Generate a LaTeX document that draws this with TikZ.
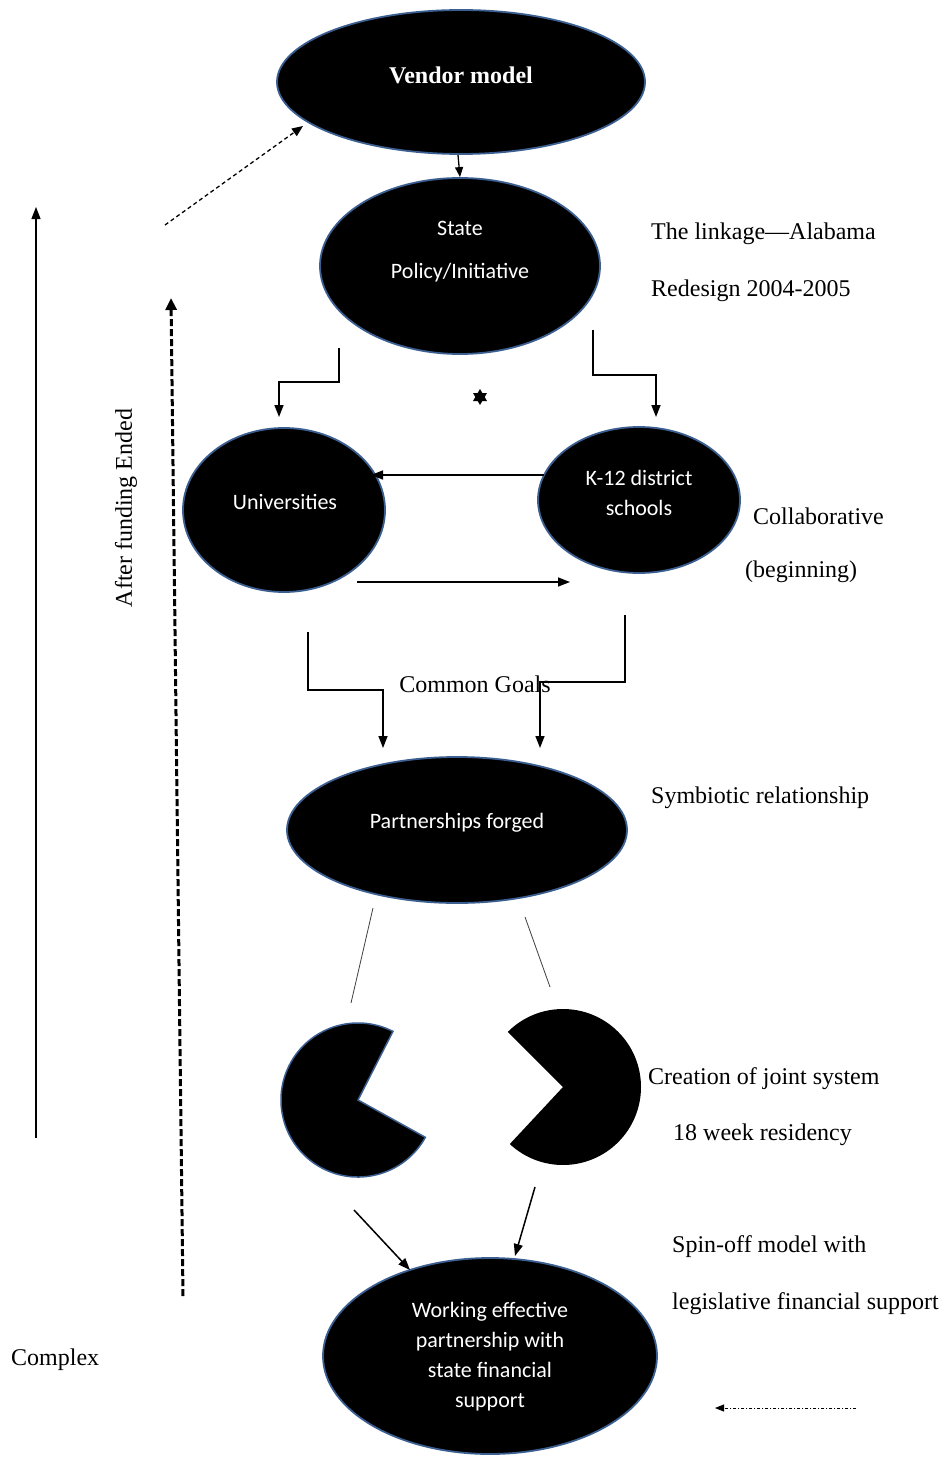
\documentclass[tikz,border=0pt]{standalone}
\usepackage{fontspec}
\setmainfont{Liberation Serif}
\newfontfamily\calfont{Carlito}
\usetikzlibrary{shapes.geometric,arrows.meta}
\definecolor{rimblue}{RGB}{60,95,145}
\begin{document}
\begin{tikzpicture}[x=1pt,y=-1pt,
  blob/.style={ellipse, fill=black, draw=rimblue, line width=1.8pt, inner sep=0pt},
  intext/.style={text=white, font=\calfont\fontsize{22}{30}\selectfont, align=center, inner sep=0pt},
  side/.style={font=\fontsize{24}{28}\selectfont, anchor=west, inner sep=0pt},
  conn/.style={line width=1.5pt, -{Triangle[length=12pt,width=9pt]}},
  thinline/.style={line width=0.8pt, draw=black!75}]
\useasboundingbox (0,0) rectangle (951,1458);
\fill[white] (0,0) rectangle (951,1458);

% ellipses
\node[blob, minimum width=368pt, minimum height=144pt] (vendor) at (461,82) {};
\node[blob, minimum width=280pt, minimum height=176pt] (state) at (460,266) {};
\node[blob, minimum width=202pt, minimum height=164pt] (uni) at (284,510) {};
\node[blob, minimum width=202pt, minimum height=146pt] (k12) at (639,500) {};
\node[blob, minimum width=340pt, minimum height=146pt] (part) at (457,830) {};
\node[blob, minimum width=334pt, minimum height=196pt] (work) at (490,1356) {};

% ellipse texts
\node[text=white, inner sep=0pt, font=\bfseries\fontsize{24}{26}\selectfont] (vendorT) at (461,75) {Vendor model};
\node[intext] (stateT1) at (460,228) {State};
\node[intext] (stateT2) at (460,273) {Policy/Initiative};
\node[intext] (uniT) at (285,502) {Universities};
\node[intext] (k12T1) at (639,478) {K-12 district};
\node[intext] (k12T2) at (639,508) {schools};
\node[intext] (partT) at (457,823) {Partnerships forged};
\node[intext] (workT) at (490,1357) {Working effective\\partnership with\\state financial\\support};

% pac-men
\filldraw[fill=black, draw=rimblue, line width=1.5pt] (358,1100) -- ++(-63:77) arc[start angle=-63, end angle=-331, radius=77] -- cycle;
\fill[black] (563,1087) -- ++(-135:78) arc[start angle=-135, end angle=133, radius=78] -- cycle;
\coordinate (pacL) at (351,1003);
\coordinate (pacR) at (550,987);

% star
\fill (480,389) -- (487,401) -- (473,401) -- cycle;
\fill (480,405) -- (487,393) -- (473,393) -- cycle;

% connectors
\draw[line width=1.3pt, -{Triangle[length=10pt,width=8pt]}] (458,155) -- (state.north);
\draw[line width=1.3pt, dash pattern=on 4pt off 3pt, -{Triangle[length=11pt,width=9pt]}] (165,225) -- (303,126);
\draw[conn] (339,348) -- (339,382) -- (279,382) -- (279,417);
\draw[conn] (593,330) -- (593,375) -- (656,375) -- (656,417);
\draw[conn] (544,475) -- (371,475);
\draw[conn] (357,582) -- (570,582);

\node[font=\fontsize{24}{28}\selectfont, inner sep=0pt] (goals) at (475,684) {Common Goals};
\draw[conn] (308,632) -- (308,690) -- (383,690) -- (383,748);
\draw[conn] (625,615) -- (625,682) -- (540,682) -- (540,748);

\draw[thinline] (373,908) -- (pacL);
\draw[thinline] (525,917) -- (pacR);

\draw[conn] (354,1210) -- (410,1270);
\draw[conn] (535,1187) -- (515,1256);

% left arrows
\draw[line width=1.3pt, -{Triangle[length=12pt,width=9pt]}] (36,1138) -- (36,207);
\draw[line width=3pt, dash pattern=on 7pt off 3pt, -{Triangle[length=12pt,width=11pt]}] (183,1296) -- (171,298);
\node[font=\fontsize{24}{28}\selectfont, rotate=90, inner sep=0pt] (after) at (126,508) {After funding Ended};
\node[side] (complex) at (11,1360) {Complex};

% side texts
\node[side] (t1) at (651,234) {The linkage—Alabama};
\node[side] (t2) at (651,291) {Redesign 2004-2005};
\node[side] (t3) at (753,516) {Collaborative};
\node[side] (t4) at (745,572) {(beginning)};
\node[side] (t5) at (651,798) {Symbiotic relationship};
\node[side] (t6) at (648,1079) {Creation of joint system};
\node[side] (t7) at (673,1135) {18 week residency};
\node[side] (t8) at (672,1247) {Spin-off model with};
\node[side] (t9) at (672,1304) {legislative financial support};

\coordinate (dd1) at (856,1408);
\coordinate (dd2) at (715,1408);
\draw[line width=1pt, dash pattern=on 3pt off 2pt on 1pt off 2pt, -{Triangle[length=9pt,width=7pt]}] (dd1) -- (dd2);
\end{tikzpicture}
\end{document}
